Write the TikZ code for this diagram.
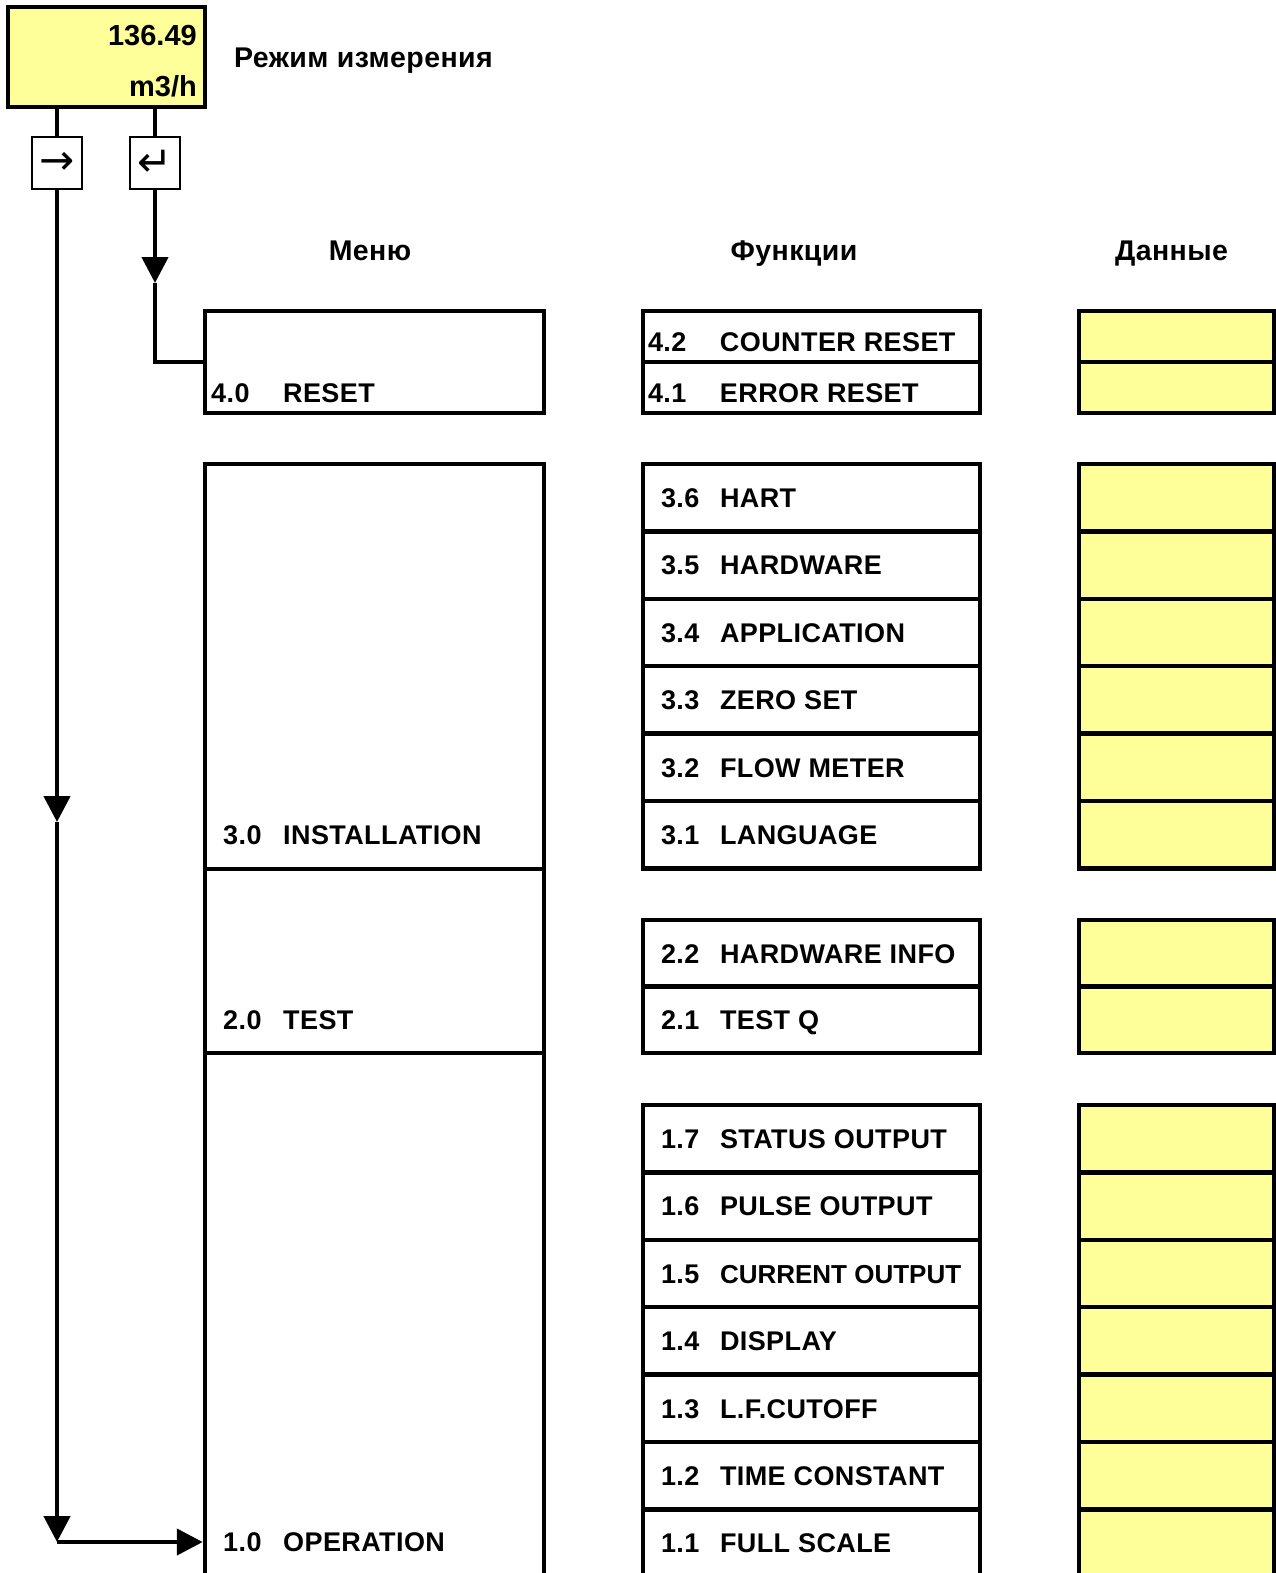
\documentclass[tikz,border=0pt]{standalone}
\usepackage{fontspec}
\setmainfont{Liberation Sans}
\newfontfamily\spaced{Liberation Sans}[LetterSpace=1.5]
\newfontfamily\keyfont{DejaVu Sans}
\usetikzlibrary{arrows.meta}
\definecolor{lcdyellow}{HTML}{FFFF99}

% number column + name, left aligned in a fixed-width row
\newcommand{\fitem}[2]{\makebox[337pt][l]{\hspace*{18pt}\makebox[59pt][l]{#1}#2}}
\newcommand{\fitemr}[2]{\makebox[337pt][l]{\hspace*{5pt}\makebox[72pt][l]{#1}#2}}

\tikzset{
  txt/.style={font=\spaced\fontsize{27}{30}\selectfont\bfseries, inner sep=0pt},
  cyrtxt/.style={font=\spaced\fontsize{28.5}{30}\selectfont\bfseries, inner sep=0pt},
  lcdtxt/.style={font=\fontsize{29}{30}\selectfont\bfseries, inner sep=0pt},
  boxline/.style={draw, line width=4.5pt, inner sep=0pt},
  menubox/.style={boxline, minimum width=339pt},
  funcrow/.style={boxline, txt, minimum width=337pt, minimum height=67.4pt, text height=19.5pt, text depth=0pt},
  resetrow/.style={funcrow, minimum height=51pt, text height=30.5pt},
  datarow/.style={boxline, fill=lcdyellow, minimum width=195pt, minimum height=67.4pt},
  keybox/.style={draw, line width=1.7pt, minimum width=50pt, minimum height=52pt, inner sep=0pt, font={\keyfont\fontsize{42}{42}\selectfont}},
  wire/.style={line width=4.5pt},
  arrowed/.style={-{Triangle[length=26pt,width=26pt]}}
}

\begin{document}
\begin{tikzpicture}[x=1pt,y=-1pt]
  \useasboundingbox (0,0) rectangle (1276,1573);

  % display and keys
  \node[boxline, fill=lcdyellow, minimum width=197pt, minimum height=100pt] (lcd) at (106.5,57) {};
  \node[lcdtxt, anchor=base east] (lcdval) at (197,46) {136.49};
  \node[lcdtxt, anchor=base east] (lcdunit) at (197,97) {m3/h};
  \node[cyrtxt, anchor=base west] (mode) at (234,68) {Режим измерения};
  \node[keybox] (knext) at (57,163) {→};
  \node[keybox] (kenter) at (155,163) {↵};

  % column heads
  \node[cyrtxt, anchor=base] (hmenu) at (370,260) {Меню};
  \node[cyrtxt, anchor=base] (hfunc) at (794,260) {Функции};
  \node[cyrtxt, anchor=base] (hdata) at (1171.5,260) {Данные};

  % menu
  \node[menubox, minimum height=102pt] (m4) at (374.5,362) {};
  \node[menubox, minimum height=405pt] (m3) at (374.5,666.5) {};
  \node[menubox, minimum height=184pt] (m2) at (374.5,961) {};
  \node[menubox, minimum height=525pt] (m1) at (374.5,1315.5) {};
  \node[txt, anchor=base west] (m4txt) at (211,402.5) {\makebox[72pt][l]{4.0}RESET};
  \node[txt, anchor=base west] (m3txt) at (223,844) {\makebox[60pt][l]{3.0}INSTALLATION};
  \node[txt, anchor=base west] (m2txt) at (223,1029.5) {\makebox[60pt][l]{2.0}TEST};
  \node[txt, anchor=base west] (m1txt) at (223,1551) {\makebox[60pt][l]{1.0}OPERATION};

  % functions
  \node[resetrow] (f42) at (811.5,336.5) {\fitemr{4.2}{COUNTER RESET}};
  \node[resetrow] (f41) at (811.5,387.5) {\fitemr{4.1}{ERROR RESET}};
  \node[funcrow] (f36) at (811.5,497.7) {\fitem{3.6}{HART}};
  \node[funcrow] (f35) at (811.5,565.1) {\fitem{3.5}{HARDWARE}};
  \node[funcrow] (f34) at (811.5,632.5) {\fitem{3.4}{APPLICATION}};
  \node[funcrow] (f33) at (811.5,699.9) {\fitem{3.3}{ZERO SET}};
  \node[funcrow] (f32) at (811.5,767.3) {\fitem{3.2}{FLOW METER}};
  \node[funcrow] (f31) at (811.5,834.7) {\fitem{3.1}{LANGUAGE}};
  \node[funcrow, minimum height=66.5pt] (f22) at (811.5,953.25) {\fitem{2.2}{HARDWARE INFO}};
  \node[funcrow, minimum height=66.5pt] (f21) at (811.5,1019.75) {\fitem{2.1}{TEST Q}};
  \node[funcrow] (f17) at (811.5,1138.7) {\fitem{1.7}{STATUS OUTPUT}};
  \node[funcrow] (f16) at (811.5,1206.1) {\fitem{1.6}{PULSE OUTPUT}};
  \node[funcrow] (f15) at (811.5,1273.5) {\fitem{1.5}{{\rmfamily\fontsize{26}{30}\selectfont CURRENT OUTPUT}}};
  \node[funcrow] (f14) at (811.5,1340.9) {\fitem{1.4}{DISPLAY}};
  \node[funcrow] (f13) at (811.5,1408.3) {\fitem{1.3}{L.F.CUTOFF}};
  \node[funcrow] (f12) at (811.5,1475.7) {\fitem{1.2}{TIME CONSTANT}};
  \node[funcrow] (f11) at (811.5,1543.1) {\fitem{1.1}{FULL SCALE}};

  % data
  \node[datarow, minimum height=51pt] (d42) at (1176.5,336.5) {};
  \node[datarow, minimum height=51pt] (d41) at (1176.5,387.5) {};
  \node[datarow] (d36) at (1176.5,497.7) {};
  \node[datarow] (d35) at (1176.5,565.1) {};
  \node[datarow] (d34) at (1176.5,632.5) {};
  \node[datarow] (d33) at (1176.5,699.9) {};
  \node[datarow] (d32) at (1176.5,767.3) {};
  \node[datarow] (d31) at (1176.5,834.7) {};
  \node[datarow, minimum height=66.5pt] (d22) at (1176.5,953.25) {};
  \node[datarow, minimum height=66.5pt] (d21) at (1176.5,1019.75) {};
  \node[datarow] (d17) at (1176.5,1138.7) {};
  \node[datarow] (d16) at (1176.5,1206.1) {};
  \node[datarow] (d15) at (1176.5,1273.5) {};
  \node[datarow] (d14) at (1176.5,1340.9) {};
  \node[datarow] (d13) at (1176.5,1408.3) {};
  \node[datarow] (d12) at (1176.5,1475.7) {};
  \node[datarow] (d11) at (1176.5,1543.1) {};

  % connectors
  \coordinate (tipenter) at (155,283);
  \coordinate (tipnext) at (57,822);
  \coordinate (turnop) at (57,1542);
  \draw[wire] (lcd.south -| knext) -- (knext.north);
  \draw[wire] (lcd.south -| kenter) -- (kenter.north);
  \draw[wire, arrowed] (kenter.south) -- (tipenter);
  \draw[wire] (tipenter) -- (tipenter |- m4.west) -- (m4.west);
  \draw[wire, arrowed] (knext.south) -- (tipnext);
  \draw[wire, arrowed] (tipnext) -- (turnop);
  \draw[wire, arrowed] (turnop) -- (turnop -| m1.west);
\end{tikzpicture}
\end{document}
